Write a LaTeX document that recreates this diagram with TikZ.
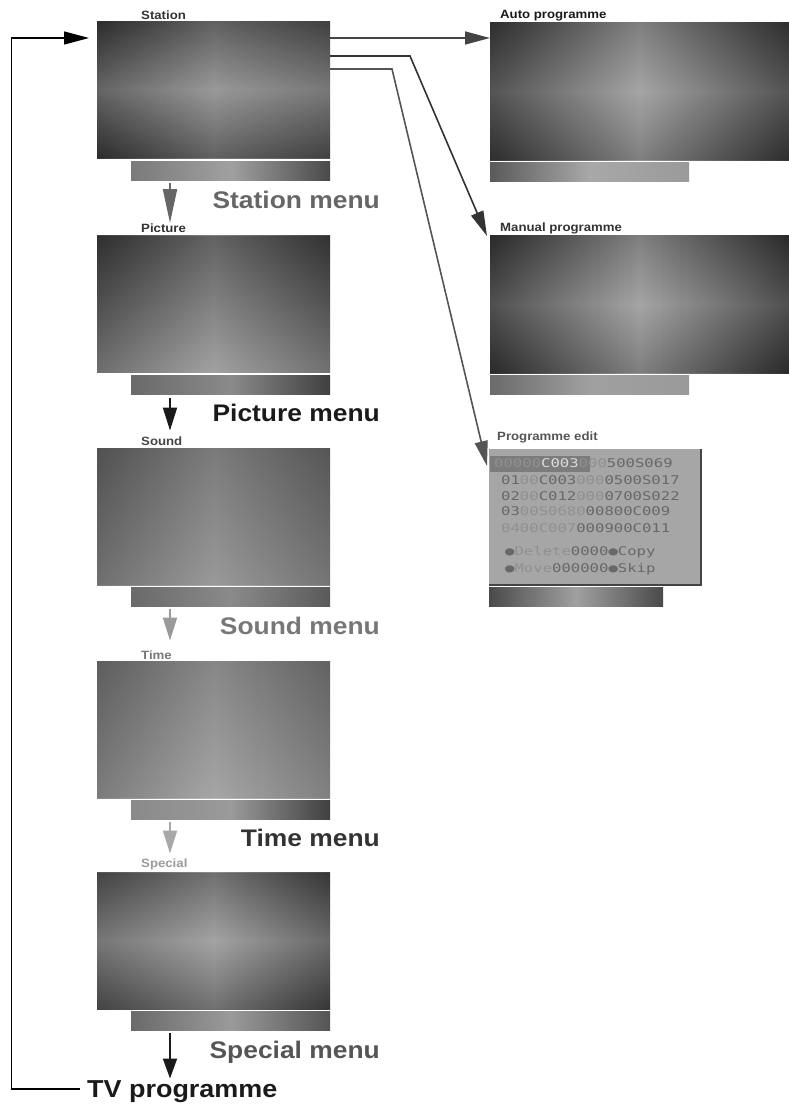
\documentclass[tikz,border=0pt]{standalone}
\usepackage{fontspec}
\usepackage{graphicx}
\setmainfont{Liberation Sans}
\newfontfamily\lab{Liberation Sans}
\newfontfamily\mono{DejaVu Sans Mono}
\usetikzlibrary{arrows.meta}
\definecolor{k1}{HTML}{1A1A1A}
\definecolor{k2}{HTML}{333333}
\definecolor{k3}{HTML}{444444}
\definecolor{k4}{HTML}{555555}
\definecolor{k5}{HTML}{666666}
\definecolor{k6}{HTML}{777777}
\definecolor{k7}{HTML}{9A9A9A}
\definecolor{k8}{HTML}{A8A8A8}
\definecolor{ebg}{HTML}{A6A6A6}
\definecolor{ehl}{HTML}{7C7C7C}
\definecolor{etx}{HTML}{686868}
\definecolor{efa}{HTML}{909090}
\definecolor{eli}{HTML}{DADADA}
\definecolor{g35}{HTML}{3A3A3A}
\definecolor{g40}{HTML}{404040}
\definecolor{g48}{HTML}{4A4A4A}
\definecolor{g55}{HTML}{555555}
\definecolor{g5a}{HTML}{5A5A5A}
\definecolor{g6a}{HTML}{6A6A6A}
\definecolor{g70}{HTML}{707070}
\definecolor{g7a}{HTML}{7A7A7A}
\definecolor{g80}{HTML}{808080}
\definecolor{g8a}{HTML}{8A8A8A}
\definecolor{g9a}{HTML}{9A9A9A}
\definecolor{ga0}{HTML}{A0A0A0}
\definecolor{ga8}{HTML}{A8A8A8}
\definecolor{gb0}{HTML}{B0B0B0}
\definecolor{gb8}{HTML}{B8B8B8}
\newcommand{\widetxt}[1]{\scalebox{1.1}[1]{#1}}
\newcommand{\monowide}[1]{\scalebox{1.3}[1]{#1}}
\begin{document}
\begin{tikzpicture}[x=1pt,y=-1pt,
  screen/.style={rectangle, inner sep=0pt, outer sep=0pt, minimum width=233pt, minimum height=137pt},
  wscreen/.style={rectangle, inner sep=0pt, outer sep=0pt, minimum width=299pt, minimum height=138pt},
  bar/.style={rectangle, inner sep=0pt, outer sep=0pt, minimum width=199pt, minimum height=19pt},
  ttl/.style={anchor=base west, inner sep=0pt, font=\lab\bfseries\fontsize{12}{14}\selectfont},
  big/.style={anchor=base east, inner sep=0pt, font=\lab\bfseries\fontsize{24}{28}\selectfont},
  mtx/.style={anchor=base west, inner sep=0pt, font=\mono\fontsize{12}{13}\selectfont, text=etx},
  con/.style={line width=1.6pt, -{Triangle[length=25pt,width=13pt]}},
  darr/.style={line width=2pt, -{Triangle[length=#1,width=14pt]}},
  loopline/.style={line width=1.4pt, draw=black, -{Triangle[length=25pt,width=13pt]}},
  vfade/.style={top color=black, bottom color=white, fill opacity=#1},
  vband/.style={top color=black, bottom color=black, middle color=white, fill opacity=#1}
]
\useasboundingbox (0,0) rectangle (789,1109);

% ---------- left column screens ----------
\node[screen, left color=g48, right color=g6a, middle color=ga0] (station) at (213.5,89.5) {};
\fill[vband=0.22] (station.north west) rectangle (station.south east);
\node[bar, left color=g7a, right color=g48, middle color=ga0] (stationbar) at (230.5,170.5) {};
\node[ttl, text=k2] (stationttl) at (141,19) {\widetxt{Station}};
\node[big, text=k5] (stationmenu) at (380,208) {\widetxt{Station menu}};

\node[screen, left color=g55, right color=g5a, middle color=gb0] (picture) at (213.5,304) {};
\fill[vfade=0.25] (picture.north west) rectangle (picture.south east);
\node[bar, left color=g6a, right color=g40, middle color=g8a] (picturebar) at (230.5,385) {};
\node[ttl, text=k2] (picturettl) at (141,232) {\widetxt{Picture}};
\node[big, text=k1] (picturemenu) at (380,421) {\widetxt{Picture menu}};

\node[screen, left color=g6a, right color=g70, middle color=ga0] (sound) at (213.5,516.5) {};
\fill[vfade=0.12] (sound.north west) rectangle (sound.south east);
\node[bar, left color=g6a, right color=g5a, middle color=g8a] (soundbar) at (230.5,597) {};
\node[ttl, text=k3] (soundttl) at (141,445) {\widetxt{Sound}};
\node[big, text=k6] (soundmenu) at (380,634) {\widetxt{Sound menu}};

\node[screen, left color=g7a, right color=g80, middle color=gb0] (time) at (213.5,729.5) {};
\fill[vfade=0.12] (time.north west) rectangle (time.south east);
\node[bar, left color=g8a, right color=g40, middle color=g9a] (timebar) at (230.5,810) {};
\node[ttl, text=k6] (timettl) at (141,659) {\widetxt{Time}};
\node[big, text=k2] (timemenu) at (380,846) {\widetxt{Time menu}};

\node[screen, left color=g6a, right color=g55, middle color=gb0] (special) at (213.5,941) {};
\fill[vband=0.2] (special.north west) rectangle (special.south east);
\node[bar, left color=g6a, right color=g55, middle color=g9a] (specialbar) at (230.5,1021) {};
\node[ttl, text=k7] (specialttl) at (141,867) {\widetxt{Special}};
\node[big, text=k4] (specialmenu) at (380,1058) {\widetxt{Special menu}};

\node[anchor=base west, inner sep=0pt, font=\lab\bfseries\fontsize{24.5}{28}\selectfont, text=k1] (tv) at (87,1097) {\widetxt{TV programme}};

% ---------- right column screens ----------
\node[wscreen, left color=g40, right color=g40, middle color=gb0] (auto) at (639.5,91) {};
\fill[vband=0.15] (auto.north west) rectangle (auto.south east);
\node[bar, left color=g5a, right color=g9a, middle color=ga8] (autobar) at (589.5,171.5) {};
\node[ttl, text=k1] (autottl) at (500,18.5) {\widetxt{Auto programme}};

\node[wscreen, left color=g35, right color=g35, middle color=gb0] (manual) at (639.5,304) {};
\fill[vband=0.15] (manual.north west) rectangle (manual.south east);
\node[bar, left color=g6a, right color=g9a, middle color=ga0] (manualbar) at (589.5,384.5) {};
\node[ttl, text=k2] (manualttl) at (500,231) {\widetxt{Manual programme}};

\node[rectangle, inner sep=0pt, outer sep=0pt, minimum width=212pt, minimum height=136pt, fill=ebg] (edit) at (595,517) {};
\draw[k3, line width=1.2pt] (edit.north east) -- (edit.south east) -- (edit.south west);
\node[rectangle, inner sep=0pt, outer sep=0pt, minimum width=174pt, minimum height=19pt, left color=g48, right color=g48, middle color=ga0] (editbar) at (576,597) {};
\node[ttl, text=k4] (editttl) at (497,440) {\widetxt{Programme edit}};
\node[rectangle, inner sep=0pt, outer sep=0pt, minimum width=100pt, minimum height=16pt, anchor=north west, fill=ehl] (hl) at ([xshift=1pt,yshift=-7pt]edit.north west) {};
\node[mtx] (r1) at (494,467) {\monowide{\textcolor{efa}{00000}\textcolor{eli}{C003}\textcolor{efa}{000}500S069}};
\node[mtx] (r2) at (501,484) {\monowide{01\textcolor{efa}{00}C003\textcolor{efa}{000}0500S017}};
\node[mtx] (r3) at (501,500) {\monowide{02\textcolor{efa}{00}C012\textcolor{efa}{000}0700S022}};
\node[mtx] (r4) at (501,515) {\monowide{03\textcolor{efa}{00S068}\textcolor{efa}{0}00800C009}};
\node[mtx] (r5) at (501,532) {\monowide{\textcolor{efa}{0400C007}000900C011}};
\node[mtx] (r6) at (505,555) {\monowide{●\textcolor{efa}{Delete}0000●Copy}};
\node[mtx] (r7) at (505,572) {\monowide{●\textcolor{efa}{Move}000000●Skip}};

% ---------- connectors ----------
\coordinate (s1) at ([yshift=-17pt]station.north east);
\coordinate (s2) at ([yshift=-35pt]station.north east);
\coordinate (s3) at ([yshift=-48pt]station.north east);
\draw[con, draw=k3] (s1) -- (s1 -| auto.west);
\draw[con, draw=k2] (s2) -- ++(80,0) -- ([xshift=-3pt,yshift=-1pt]manual.north west);
\draw[con, draw=k4] (s3) -- ++(62,0) -- ([xshift=-2pt,yshift=-17pt]edit.north west);

\coordinate (lp) at (11.5,1089);
\draw[loopline] ([xshift=-7pt,yshift=8pt]tv.base west) -- (lp) |- ([xshift=-8pt,yshift=-17pt]station.north west);

\draw[darr=34pt, draw=k5] ([xshift=39pt,yshift=-3pt]stationbar.south west) -- ++(0,40);
\draw[darr=23pt, draw=k1] ([xshift=39pt,yshift=-3pt]picturebar.south west) -- ++(0,33);
\draw[darr=23pt, draw=k7] ([xshift=39pt,yshift=-2pt]soundbar.south west) -- ++(0,32);
\draw[darr=23pt, draw=k8] ([xshift=39pt,yshift=-2pt]timebar.south west) -- ++(0,32);
\draw[darr=20pt, draw=k1] ([xshift=39pt,yshift=-2pt]specialbar.south west) -- ++(0,46);
\end{tikzpicture}
\end{document}
